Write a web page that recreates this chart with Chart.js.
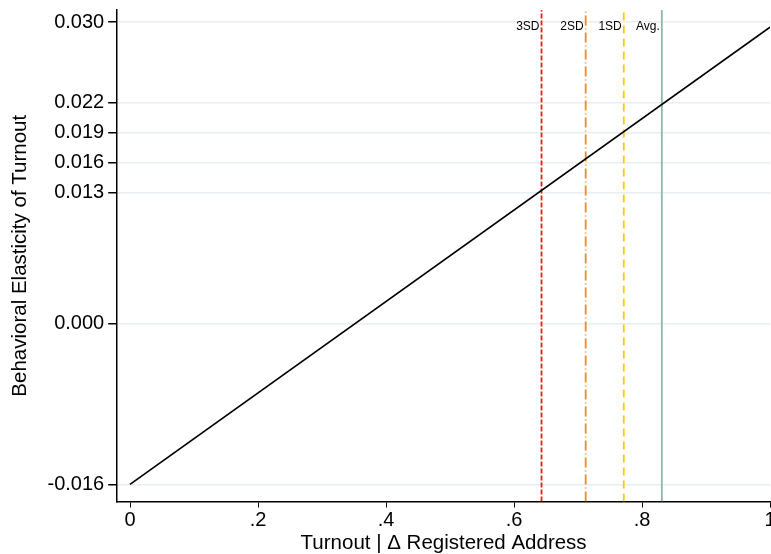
<!DOCTYPE html>
<html>
<head>
<meta charset="utf-8">
<script src="https://cdn.jsdelivr.net/npm/chart.js@4/dist/chart.umd.min.js"></script>
<style>
  html, body { margin: 0; padding: 0; background: #fff; }
  #wrap { width: 771px; height: 554px; }
</style>
</head>
<body>
<div id="wrap"><canvas id="lineChart"></canvas></div>
<script>
// --- data ---
const fitX = [0, 1];
const fitY = [-0.016, 0.0295];
const yTicks = [-0.016, 0.000, 0.013, 0.016, 0.019, 0.022, 0.030];
const xTicks = [0, 0.2, 0.4, 0.6, 0.8, 1];
const refNames = ['3SD', '2SD', '1SD', 'Avg.'];
const refX = [0.643, 0.712, 0.7715, 0.831];
const refColors = ['#f51a1a', '#f08a24', '#ffc800', '#8fb8a8'];
const refDash = [[5, 2], [10, 3, 1, 3], [8, 5], []];

const Y_MIN = -0.0177, Y_MAX = 0.0312;

const font = 'Liberation Sans, Arial, Helvetica, sans-serif';
Chart.defaults.font.family = font;
Chart.defaults.color = '#000';

const datasets = [{
    data: fitX.map((x, i) => ({ x: x, y: fitY[i] })),
    borderColor: '#000',
    borderWidth: 1.7,
    pointRadius: 0,
    showLine: true,
    order: 0
}];
refX.forEach((x, i) => {
    datasets.push({
        data: [{ x: x, y: Y_MIN }, { x: x, y: Y_MAX }],
        borderColor: refColors[i],
        borderWidth: 1.8,
        borderDash: refDash[i],
        pointRadius: 0,
        showLine: true,
        order: 1
    });
});

// labels next to the reference lines
const refLabels = {
    id: 'refLabels',
    afterDatasetsDraw(chart) {
        const ctx = chart.ctx;
        const xs = chart.scales.x, ys = chart.scales.y;
        ctx.save();
        ctx.font = '12px ' + font;
        ctx.fillStyle = '#000';
        ctx.textAlign = 'right';
        ctx.textBaseline = 'middle';
        refNames.forEach((name, i) => {
            ctx.fillText(name, xs.getPixelForValue(refX[i]) - 2, ys.getPixelForValue(0.030) + 5);
        });
        ctx.restore();
    }
};

new Chart(document.getElementById('lineChart'), {
    type: 'scatter',
    data: { datasets: datasets },
    plugins: [refLabels],
    options: {
        responsive: true,
        maintainAspectRatio: false,
        animation: false,
        layout: { padding: { left: 10, right: 1, top: 10, bottom: 0 } },
        plugins: { legend: { display: false }, tooltip: { enabled: false } },
        scales: {
            x: {
                type: 'linear',
                min: -0.02,
                max: 1.0,
                afterBuildTicks: s => { s.ticks = xTicks.map(v => ({ value: v })); },
                afterFit: s => { s.paddingRight = 0; },
                ticks: {
                    font: { size: 20, lineHeight: 1.1 },
                    padding: 2,
                    maxRotation: 0,
                    callback: v => v === 0 ? '0' : v === 1 ? '1' : String(v).replace(/^0/, '')
                },
                grid: { drawOnChartArea: false, tickColor: '#000', tickLength: 6 },
                border: { color: '#000', width: 1.5 },
                title: { display: true, text: 'Turnout | \u0394 Registered Address', font: { size: 20.5, lineHeight: 1 }, padding: { top: 0, bottom: 0 } }
            },
            y: {
                min: Y_MIN,
                max: Y_MAX,
                afterBuildTicks: s => { s.ticks = yTicks.map(v => ({ value: v })); },
                afterFit: s => { s.paddingTop = 0; s.paddingBottom = 0; },
                ticks: {
                    font: { size: 20 },
                    padding: 4,
                    callback: v => v.toFixed(3)
                },
                grid: { color: '#e8eef2', lineWidth: 1.5, tickColor: '#000', tickLength: 9 },
                border: { color: '#000', width: 1.5 },
                title: { display: true, text: 'Behavioral Elasticity of Turnout', font: { size: 20.5, lineHeight: 1 }, padding: { top: 0, bottom: 13 } }
            }
        }
    }
});
</script>
</body>
</html>
